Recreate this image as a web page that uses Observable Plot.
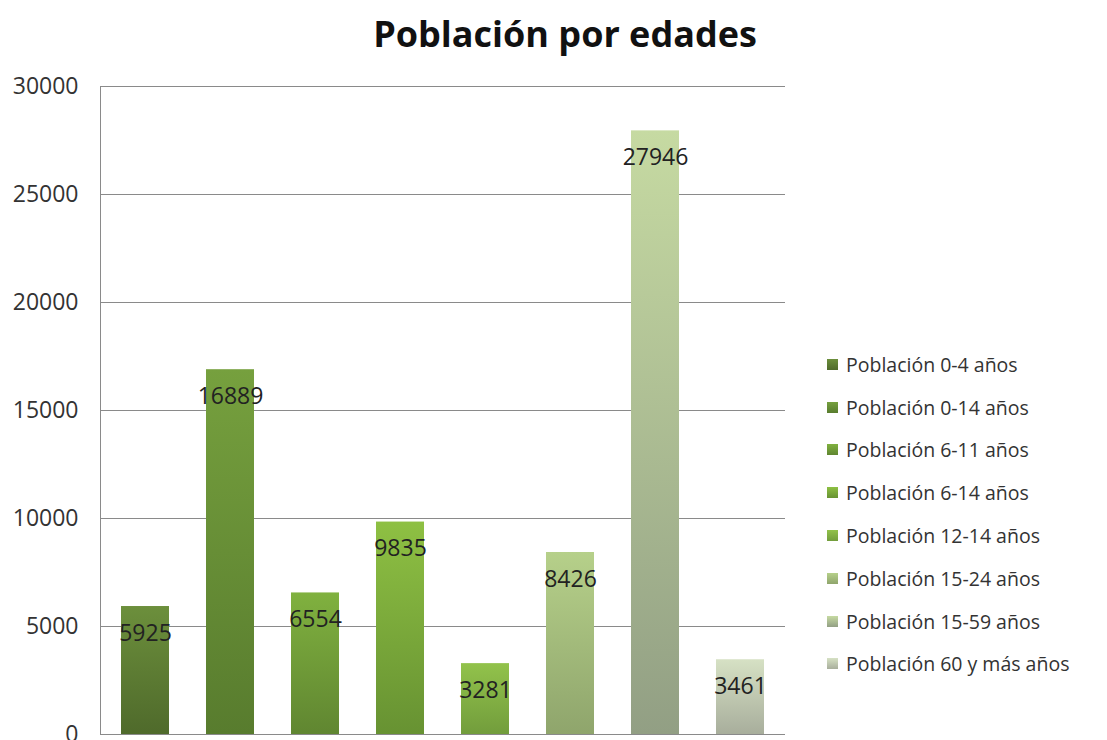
<!DOCTYPE html>
<html>
<head>
<meta charset="utf-8">
<script src="https://cdn.jsdelivr.net/npm/d3@7"></script>
<script src="https://cdn.jsdelivr.net/npm/@observablehq/plot@0.6"></script>
<style>
  html, body { margin: 0; padding: 0; background: #fff; }
  #wrap { position: relative; width: 1107px; height: 740px; overflow: hidden; font-family: "Open Sans", Lato, sans-serif; }
  #title { position: absolute; left: 0; top: 16px; width: 1130px; text-align: center; font-size: 36px; line-height: 1; font-weight: bold; color: #111; }
  #chart { position: absolute; left: 0; top: 70px; }
  #legend { position: absolute; left: 827px; top: 343px; }
  .item { display: flex; align-items: center; height: 42.8px; font-size: 19.5px; color: #333; }
  .sw { width: 11px; height: 11px; margin-right: 8px; }
</style>
</head>
<body>
<div id="wrap">
  <div id="title">Población por edades</div>
  <div id="chart"></div>
  <div id="legend"></div>
</div>
<script>
// Age groups and their population counts
const groups = [
  "Población 0-4 años",
  "Población 0-14 años",
  "Población 6-11 años",
  "Población 6-14 años",
  "Población 12-14 años",
  "Población 15-24 años",
  "Población 15-59 años",
  "Población 60 y más años"
];
const population = [5925, 16889, 6554, 9835, 3281, 8426, 27946, 3461];
const yTicks = [0, 5000, 10000, 15000, 20000, 25000, 30000];

// Gradient stops per bar (top colour, bottom colour)
const topColors = ["#6c8f3c", "#76a03e", "#80b13f", "#8ec043", "#92c24b", "#b6d08a", "#c6daa2", "#d6e1c4"];
const bottomColors = ["#4f6a2b", "#587c2e", "#608631", "#679232", "#729d3c", "#8fa56c", "#929f84", "#a8ae9c"];

const rows = groups.map((g, i) => ({group: g, value: population[i], grad: `url(#grad${i})`}));

// Linear gradient definitions used as bar fills
const gradients = () => {
  const g = d3.create("svg:defs");
  groups.forEach((_, i) => {
    const lg = g.append("linearGradient")
      .attr("id", `grad${i}`)
      .attr("x1", 0).attr("y1", 0).attr("x2", 0).attr("y2", 1);
    lg.append("stop").attr("offset", "0%").attr("stop-color", topColors[i]);
    lg.append("stop").attr("offset", "100%").attr("stop-color", bottomColors[i]);
  });
  return g.node();
};

// Vertical axis line along the left edge of the plot area
const leftLine = (index, scales, values, dims) => {
  const g = d3.create("svg:line")
    .attr("x1", dims.marginLeft + 0.5).attr("x2", dims.marginLeft + 0.5)
    .attr("y1", scales.y(30000)).attr("y2", scales.y(0))
    .attr("stroke", "#8a8a8a");
  return g.node();
};

const chart = Plot.plot({
  width: 1107,
  height: 670,
  marginLeft: 100,
  marginRight: 322,
  marginTop: 16,
  marginBottom: 6,
  style: {fontFamily: "'Open Sans', Lato, sans-serif", overflow: "visible", background: "white"},
  x: {domain: groups, paddingInner: 0.44, paddingOuter: 0.22, axis: null},
  y: {domain: [0, 30000], label: null},
  color: {type: "identity"},
  marks: [
    gradients,
    Plot.gridY(yTicks, {stroke: "#8a8a8a", strokeOpacity: 1, strokeWidth: 1}),
    leftLine,
    Plot.axisY(yTicks, {tickSize: 0, tickPadding: 22, tickFormat: d => String(d), fontSize: 23, fill: "#333", label: null}),
    Plot.barY(rows, {x: "group", y: "value", fill: "grad"}),
    Plot.text(rows, {x: "group", y: "value", text: d => String(d.value), dy: 27, fontSize: 23, fill: "#222"})
  ]
});
document.getElementById("chart").appendChild(chart);

// Legend listing each age group with its swatch
const legend = d3.select("#legend");
groups.forEach((g, i) => {
  const item = legend.append("div").attr("class", "item");
  item.append("div").attr("class", "sw")
    .style("background", `linear-gradient(${topColors[i]}, ${bottomColors[i]})`);
  item.append("span").text(g);
});
</script>
</body>
</html>
